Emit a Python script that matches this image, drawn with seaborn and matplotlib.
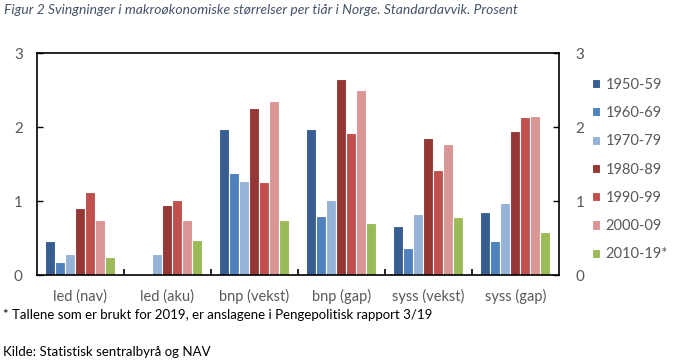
import matplotlib
matplotlib.use("Agg")
import matplotlib.pyplot as plt
import seaborn as sns
import numpy as np
import pandas as pd

categories = ['led (nav)', 'led (aku)', 'bnp (vekst)', 'bnp (gap)', 'syss (vekst)', 'syss (gap)']
decades = ['1950-59', '1960-69', '1970-79', '1980-89', '1990-99', '2000-09', '2010-19*']
colors = ['#375D91', '#4F81BD', '#95B3D7', '#953735', '#C0504D', '#D99694', '#9BBB59']

v1950 = [0.46, np.nan, 1.98, 1.98, 0.66, 0.85]
v1960 = [0.17, np.nan, 1.38, 0.80, 0.36, 0.46]
v1970 = [0.28, 0.28, 1.27, 1.01, 0.83, 0.97]
v1980 = [0.90, 0.95, 2.26, 2.65, 1.86, 1.95]
v1990 = [1.12, 1.02, 1.26, 1.92, 1.42, 2.14]
v2000 = [0.75, 0.74, 2.35, 2.50, 1.77, 2.15]
v2010 = [0.25, 0.47, 0.75, 0.71, 0.79, 0.58]

series = [v1950, v1960, v1970, v1980, v1990, v2000, v2010]
rows = []
for d, vals in zip(decades, series):
    for c, v in zip(categories, vals):
        rows.append({'kategori': c, 'tiar': d, 'verdi': v})
df = pd.DataFrame(rows).dropna()

sns.set_style('white')
plt.rcParams['font.family'] = ['Lato', 'DejaVu Sans']

fig = plt.figure(figsize=(6.74, 3.64), dpi=100)
ax = fig.add_axes([0.0545, 0.2445, 0.7745, 0.609])
sns.barplot(data=df, x='kategori', y='verdi', hue='tiar', order=categories,
            hue_order=decades, palette=colors, saturation=1, width=0.8,
            edgecolor='white', linewidth=0.8, ax=ax, legend=True)
ax.set_xlim(-0.5, 5.5)
ax.set_ylim(0, 3)
ax.set_yticks([0, 1, 2, 3])
ax.set_xlabel('')
ax.set_ylabel('')
for s in ax.spines.values():
    s.set_color('black')
    s.set_linewidth(1.2)
    s.set_visible(True)
ax.tick_params(axis='y', direction='in', length=4, width=1, color='black',
               labelsize=11, labelcolor='#595959', pad=10, left=True)
ax.set_xticks(np.arange(len(categories)))
ax.set_xticklabels(categories)
ax.tick_params(axis='x', length=0, labelsize=10.5, labelcolor='#595959', pad=10)
ax.set_xticks(np.arange(0.5, 5.5, 1), minor=True)
ax.tick_params(axis='x', which='minor', direction='in', length=4, width=1.2, color='black', bottom=True)

ax2 = ax.twinx()
ax2.set_ylim(0, 3)
ax2.set_yticks([0, 1, 2, 3])
ax2.tick_params(axis='y', direction='in', length=4, width=1, color='black',
                labelsize=11, labelcolor='#595959', pad=12)
for s in ax2.spines.values():
    s.set_visible(False)

handles, labels = ax.get_legend_handles_labels()
ax.legend(handles, labels, loc='upper left', bbox_to_anchor=(1.063, 0.89),
          frameon=False, fontsize=10.5, labelcolor='#595959',
          handlelength=0.6, handleheight=0.6, handletextpad=0.35,
          labelspacing=0.98, borderaxespad=0, borderpad=0)

fig.text(0.006, 0.972, 'Figur 2 Svingninger i makroøkonomiske størrelser per tiår i Norge. Standardavvik. Prosent',
         fontsize=10, style='italic', color='#44546A', va='center', ha='left')
fig.text(0.004, 0.135, '* Tallene som er brukt for 2019, er anslagene i Pengepolitisk rapport 3/19',
         fontsize=9.5, color='black', va='center', ha='left')
fig.text(0.004, 0.033, 'Kilde: Statistisk sentralbyrå og NAV',
         fontsize=9.5, color='black', va='center', ha='left')

fig.savefig('out.png', dpi=100)
